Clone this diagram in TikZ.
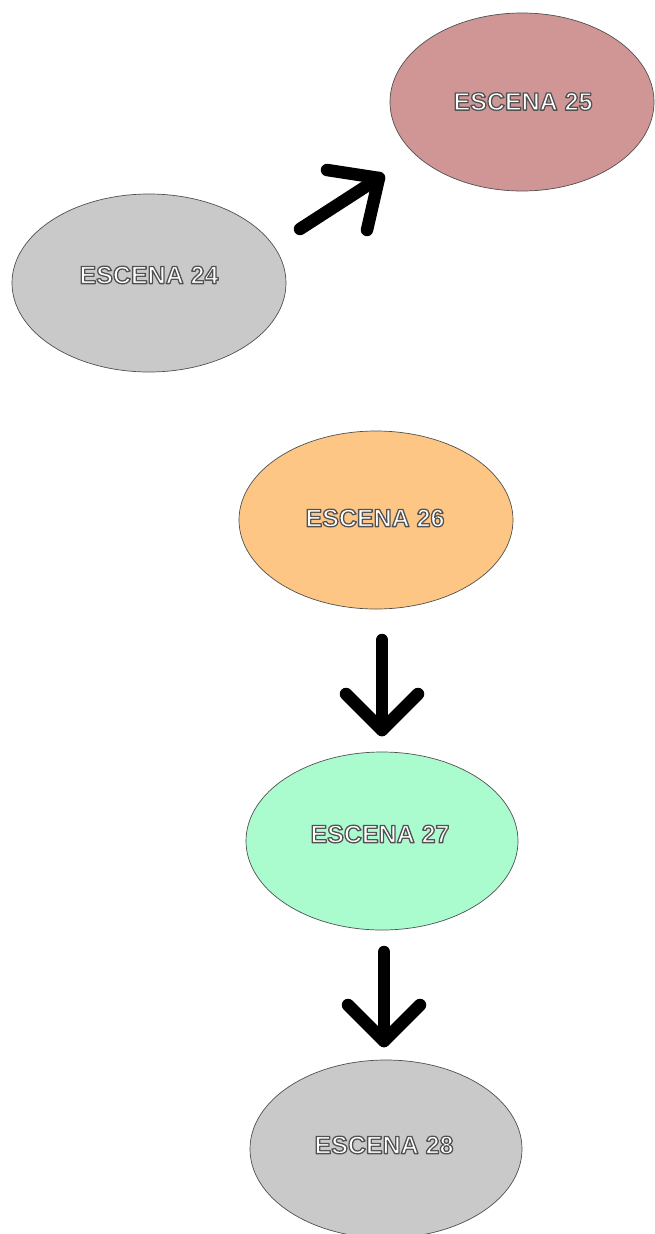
\documentclass[tikz,border=0pt]{standalone}
\usepackage{fontspec}
\setmainfont{Liberation Sans}
\usetikzlibrary{shapes.geometric}
\definecolor{rose}{HTML}{D09696}
\definecolor{greyfill}{HTML}{C9C9C9}
\definecolor{orangefill}{HTML}{FDC685}
\definecolor{mintfill}{HTML}{AAFCCE}
\definecolor{rim}{HTML}{505050}
% white lettering stroked with a thin dark outline (text render mode 2)
\newcommand{\outlined}[1]{%
  \special{pdf:literal direct q 0.32 0.32 0.32 RG 1.3 w 1 j 2 Tr}%
  #1%
  \special{pdf:literal direct 0 Tr Q}}
\tikzset{
  scene/.style={ellipse, draw=rim, line width=0.7pt, inner sep=0pt,
    minimum width=274pt, minimum height=178pt},
  labeltext/.style={inner sep=0pt, text=white,
    font=\fontsize{25}{25}\selectfont\bfseries},
  bigarrow/.style={line width=12.5pt, line cap=round, line join=round, black}
}
\begin{document}
\begin{tikzpicture}[x=1pt,y=-1pt]
\useasboundingbox (0,0) rectangle (654,1234);
% scenes
\node[scene, fill=rose,       minimum width=264pt] (e25) at (522,102)  {};
\node[scene, fill=greyfill]                        (e24) at (149,283)  {};
\node[scene, fill=orangefill]                      (e26) at (376,520)  {};
\node[scene, fill=mintfill,   minimum width=272pt] (e27) at (382,841)  {};
\node[scene, fill=greyfill,   minimum width=272pt] (e28) at (386,1149) {};
% scene titles
\node[labeltext] (t25) at (523,101.5) {\outlined{ESCENA 25}};
\node[labeltext] (t24) at (149,275)   {\outlined{ESCENA 24}};
\node[labeltext] (t26) at (375,518)   {\outlined{ESCENA 26}};
\node[labeltext] (t27) at (380,834)   {\outlined{ESCENA 27}};
\node[labeltext] (t28) at (384,1145)  {\outlined{ESCENA 28}};
% arrow 24 -> 25
\coordinate (a1s) at (300,229);
\coordinate (a1t) at (379,178);
\coordinate (a1l) at (327,170);
\coordinate (a1r) at (367,230);
\draw[bigarrow] (a1s) -- (a1t);
\draw[bigarrow] (a1l) -- (a1t) -- (a1r);
% arrow 26 -> 27
\coordinate (a2s) at (382,640);
\coordinate (a2t) at (382,730);
\coordinate (a2l) at (346,694);
\coordinate (a2r) at (418,694);
\draw[bigarrow] (a2s) -- (a2t);
\draw[bigarrow] (a2l) -- (a2t) -- (a2r);
% arrow 27 -> 28
\coordinate (a3s) at (384,952);
\coordinate (a3t) at (384,1041);
\coordinate (a3l) at (348,1005);
\coordinate (a3r) at (420,1005);
\draw[bigarrow] (a3s) -- (a3t);
\draw[bigarrow] (a3l) -- (a3t) -- (a3r);
\end{tikzpicture}
\end{document}
